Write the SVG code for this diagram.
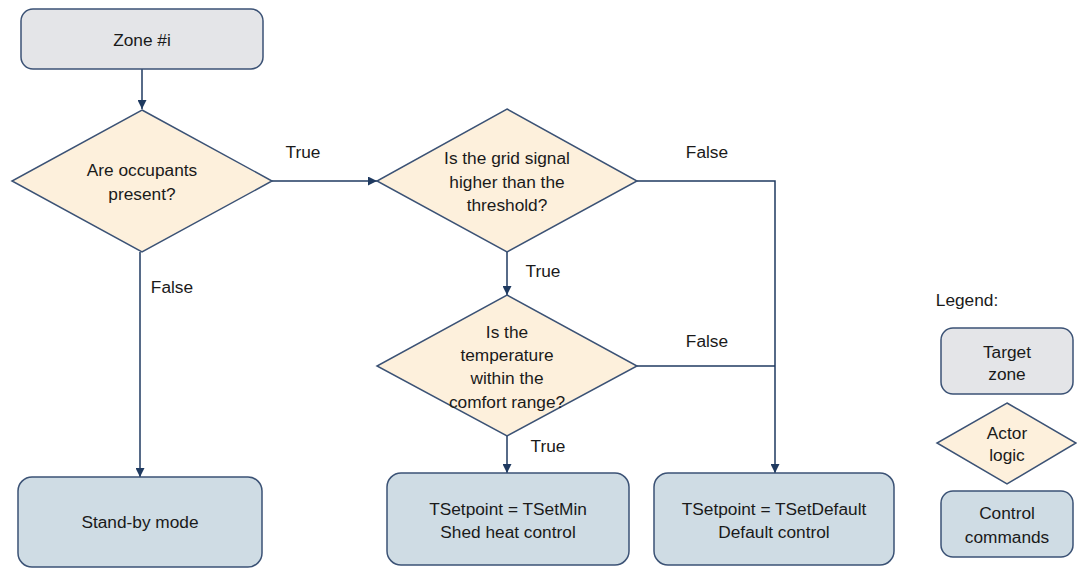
<svg xmlns="http://www.w3.org/2000/svg" width="1077" height="568" viewBox="0 0 1077 568">
<style>
text{font-family:"Liberation Sans",Arial,sans-serif;font-size:17.3px;fill:#1a1a1a;text-anchor:middle;dominant-baseline:central}
.zone{fill:#e4e5e8;stroke:#3b5275;stroke-width:1.5}
.logic{fill:#fdf0dc;stroke:#3b5275;stroke-width:1.5}
.cmd{fill:#cfdce4;stroke:#3b5275;stroke-width:1.5}
.conn{fill:none;stroke:#1f3a60;stroke-width:1.5}
</style>
<defs>
<marker id="arr" viewBox="0 0 10 10" refX="10" refY="5" markerWidth="9" markerHeight="9" markerUnits="userSpaceOnUse" orient="auto">
<path d="M0,0 L10,5 L0,10 z" fill="#1f3a60"/>
</marker>
</defs>
<rect width="1077" height="568" fill="#ffffff"/>

<g id="connectors">
<line class="conn" x1="142" y1="69" x2="142" y2="109" marker-end="url(#arr)"/>
<line class="conn" x1="272" y1="181" x2="377" y2="181" marker-end="url(#arr)"/>
<line class="conn" x1="140" y1="252" x2="140" y2="477" marker-end="url(#arr)"/>
<line class="conn" x1="507" y1="252" x2="507" y2="295" marker-end="url(#arr)"/>
<polyline class="conn" points="637,181 775,181 775,473" marker-end="url(#arr)"/>
<line class="conn" x1="637" y1="366" x2="775" y2="366"/>
<line class="conn" x1="507" y1="436" x2="507" y2="473" marker-end="url(#arr)"/>
<text x="303" y="152">True</text>
<text x="172" y="287">False</text>
<text x="707" y="152">False</text>
<text x="543" y="271">True</text>
<text x="707" y="341">False</text>
<text x="548" y="446">True</text>
</g>

<g id="zone">
<rect class="zone" x="21" y="9" width="242" height="60" rx="12"/>
<text x="142" y="40">Zone #i</text>
</g>

<g id="occupants">
<polygon class="logic" points="142,110 272,181 142,252 12,181"/>
<text x="142" y="170">Are occupants</text>
<text x="142" y="194">present?</text>
</g>

<g id="grid">
<polygon class="logic" points="507,109 637,181 507,252 377,181"/>
<text x="507" y="158">Is the grid signal</text>
<text x="507" y="182">higher than the</text>
<text x="507" y="205">threshold?</text>
</g>

<g id="temperature">
<polygon class="logic" points="507,295 637,366 507,436 377,366"/>
<text x="507" y="332">Is the</text>
<text x="507" y="355">temperature</text>
<text x="507" y="378">within the</text>
<text x="507" y="402">comfort range?</text>
</g>

<g id="standby">
<rect class="cmd" x="18" y="477" width="244" height="90" rx="14"/>
<text x="140" y="522">Stand-by mode</text>
</g>

<g id="shed">
<rect class="cmd" x="387" y="473" width="242" height="92" rx="14"/>
<text x="508" y="509">TSetpoint = TSetMin</text>
<text x="508" y="532">Shed heat control</text>
</g>

<g id="default">
<rect class="cmd" x="654" y="473" width="240" height="92" rx="14"/>
<text x="774" y="509">TSetpoint = TSetDefault</text>
<text x="774" y="532">Default control</text>
</g>

<g id="legend">
<text x="967" y="300">Legend:</text>
<rect class="zone" x="941" y="328" width="132" height="66" rx="12"/>
<text x="1007" y="352">Target</text>
<text x="1007" y="374">zone</text>
<polygon class="logic" points="1007,403 1076,443 1007,484 937,443"/>
<text x="1007" y="433">Actor</text>
<text x="1007" y="455">logic</text>
<rect class="cmd" x="941" y="491" width="132" height="66" rx="12"/>
<text x="1007" y="513">Control</text>
<text x="1007" y="537">commands</text>
</g>
</svg>
